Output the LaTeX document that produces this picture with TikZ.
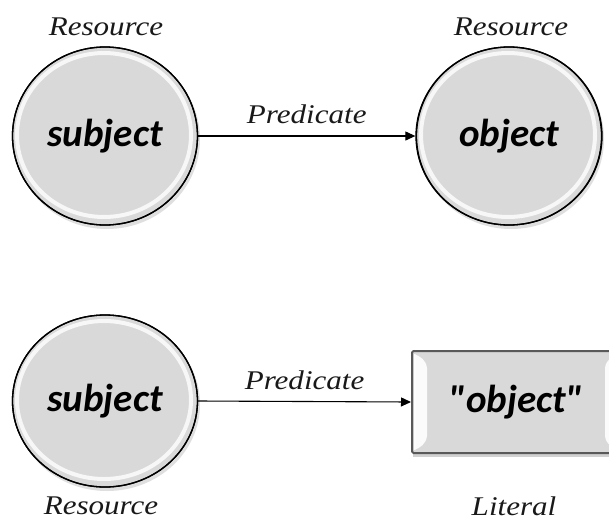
\documentclass[tikz,border=0pt]{standalone}
\usepackage{fontspec}
\usetikzlibrary{arrows.meta,shapes.geometric}
\newfontfamily\roleface[FakeStretch=1.15]{Liberation Serif}
\newfontfamily\termface{Carlito}

\tikzset{
  rolelabel/.style={font=\roleface\itshape\fontsize{27}{29}\selectfont, text=black!90, inner sep=0pt},
  termtext/.style={font=\termface\bfseries\itshape\fontsize{39}{42}\selectfont, text=black},
  resnode/.style={ellipse, draw=black, line width=1.3pt, fill=black!15, inner sep=0pt},
  litnode/.style={rectangle, rounded corners=1.5pt, draw=black!65, line width=2pt, fill=black!15, inner sep=0pt},
  predarrow/.style={draw=black, line width=1.1pt, -{Triangle[length=10pt,width=9pt]}},
  rimlight/.style={white, opacity=0.8, line cap=round},
  gloss/.style={white, opacity=0.9},
}

\begin{document}
\begin{tikzpicture}[x=1pt, y=-1pt]
  \useasboundingbox (0,0) rectangle (609,522);
  \clip (0,0) rectangle (609,522);

  % soft drop shadows
  \fill[black!25, opacity=0.5] (107,139) ellipse [x radius=93, y radius=90];
  \fill[black!25, opacity=0.5] (511,139) ellipse [x radius=93, y radius=90];
  \fill[black!25, opacity=0.5] (107,404) ellipse [x radius=93, y radius=87];
  \fill[black!30, opacity=0.6] (413,354) rectangle (640,457);

  % resource nodes
  \node[resnode, minimum width=185, minimum height=178] (subjA) at (105,136) {};
  \node[resnode, minimum width=186, minimum height=178] (objA)  at (509,136) {};
  \node[resnode, minimum width=185, minimum height=172] (subjB) at (105,401) {};

  % rim highlights of the resource nodes
  \foreach \n/\ry in {subjA/89,objA/89,subjB/86}{
    \begin{scope}
      \clip (\n.center) ellipse [x radius=91, y radius=\ry-3];
      \draw[rimlight, line width=4pt]
        ([shift={(-1,-1)}]\n.center) ellipse [x radius=87, y radius=\ry-7];
    \end{scope}
    \draw[black, line width=1.3pt] (\n.center) ellipse [x radius=92.5, y radius=\ry];
  }
  \node[termtext] (subjAtext) at (subjA.center) {subject};
  \node[termtext] (objAtext)  at (objA.center)  {object};
  \node[termtext] (subjBtext) at (subjB.center) {subject};

  % literal node with bevelled side strips
  \node[litnode, minimum width=215, minimum height=102, anchor=west] (lit) at (411,402) {};
  \fill[gloss] (414,354) .. controls (420,356) and (426,360) .. (427,368)
    -- (427,436) .. controls (426,444) and (420,448) .. (414,450) -- cycle;
  \fill[white, opacity=0.5] (414,354) -- (416,354) -- (416,450) -- (414,450) -- cycle;
  \fill[gloss] (605,368) .. controls (606,360) and (612,356) .. (618,354)
    -- (618,450) .. controls (612,448) and (606,444) .. (605,436) -- cycle;
  \node[termtext] (littext) at (516,402) {"object"};

  % predicate arcs
  \draw[predarrow] (subjA.east) -- (objA.west)
    node[midway, above=12pt, rolelabel] (predA) {Predicate};
  \draw[predarrow] (subjB.east) -- (lit.west)
    node[midway, above=11pt, rolelabel] (predB) {Predicate};

  % role labels
  \node[rolelabel] (roleA) at (106,27)  {Resource};
  \node[rolelabel] (roleB) at (511,27)  {Resource};
  \node[rolelabel] (roleC) at (101,506) {Resource};
  \node[rolelabel] (roleD) at (514,506) {Literal};
\end{tikzpicture}
\end{document}
